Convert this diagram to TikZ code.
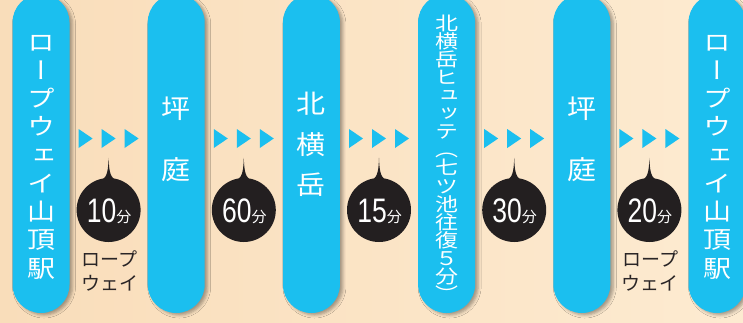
\documentclass[tikz,border=0pt]{standalone}
\usepackage{fontspec}
\usepackage{graphicx}
\usetikzlibrary{shadows.blur,calc}
\newfontfamily\jp{Noto Sans CJK JP}
\newfontfamily\jpv[RawFeature={+vert}]{Noto Sans CJK JP}
\newfontfamily\numfont{Liberation Sans}
\definecolor{bgL}{HTML}{F9DDBA}
\definecolor{bgM}{HTML}{FCEACF}
\definecolor{bgR}{HTML}{FDEBD1}
\definecolor{pillc}{HTML}{1BBFEF}
\definecolor{bubc}{HTML}{231F20}
\definecolor{lblc}{HTML}{2A2526}
\newcommand\vtext[7]{%
  \foreach \c [count=\k] in {#7}
    \node[vch, font=\fontsize{#5}{#5}\jpv] (#1\k) at (#2,{#3+(\k-1)*#4+0.38*#5*#6}) {\scalebox{1}[#6]{\c}};}
\begin{document}
\begin{tikzpicture}[x=1pt,y=-1pt,
  pill/.style={fill=pillc, draw=none, rectangle, rounded corners=28.5pt,
    minimum width=57pt, minimum height=319pt, inner sep=0pt,
    blur shadow={shadow xshift=3pt, shadow yshift=-2pt, shadow blur radius=3pt, shadow opacity=35}},
  vch/.style={anchor=base, inner sep=0pt, text=white},
  bubble/.style={circle, fill=bubc, minimum size=64pt, inner sep=0pt},
  spike/.style={fill=bubc},
  tri/.style={fill=pillc},
  numtxt/.style={anchor=base, inner sep=0pt, text=white},
  lbl/.style={inner sep=0pt, text=lblc, font=\fontsize{19}{19}\jp}]
\useasboundingbox (0,0) rectangle (743,322);
\fill[left color=bgL, middle color=bgM, right color=bgR] (0,0) rectangle (743,322);
% pills
\foreach \i in {0,...,5}
  \node[pill] (p\i) at ({41+135.2*\i},153.5) {};
% vertical texts
\vtext{ta}{41}{42}{28.25}{28}{0.85}{ロ,ー,プ,ウ,ェ,イ,山,頂,駅}
\vtext{tb}{176.2}{109}{61}{29}{0.9}{坪,庭}
\vtext{tc}{311.4}{104}{40.5}{29}{0.9}{北,横,岳}
\vtext{td}{446.6}{23}{18.1}{23}{0.82}{北,横,岳,ヒ,ュ,ッ,テ,︵,七,ツ,池,往,復,５,分,︶}
\vtext{te}{581.8}{109}{61}{29}{0.9}{坪,庭}
\vtext{tf}{717}{42}{28.25}{28}{0.85}{ロ,ー,プ,ウ,ェ,イ,山,頂,駅}
% arrows, bubbles
\foreach \i/\t in {0/10,1/60,2/15,3/30,4/20}{
  \pgfmathsetmacro\gx{108.6+135.2*\i}
  \foreach \k in {-1,0,1}
    \fill[tri] ({\gx+23*\k-7},129) -- ({\gx+23*\k+7},138.5) -- ({\gx+23*\k-7},148) -- cycle;
  \node[bubble] (b\i) at (\gx,210) {};
  \fill[spike] ($(b\i.north)+(0,-20)$) .. controls ($(b\i.north)+(0.4,-9)$) and ($(b\i.north)+(1,-2)$) .. ($(b\i.north)+(6,2)$)
     -- ($(b\i.north)+(-6,2)$) .. controls ($(b\i.north)+(-1,-2)$) and ($(b\i.north)+(-0.4,-9)$) .. cycle;
  \node[numtxt] (n\i) at ({\gx+0.5},222) {\scalebox{0.78}[1]{\fontsize{34}{34}\numfont \t}{\fontsize{15}{15}\jp 分}};
}
% labels
\node[lbl] (l1) at (109.5,259) {ロープ};
\node[lbl] (l2) at (109.5,283) {ウェイ};
\node[lbl] (l3) at (650.4,259) {ロープ};
\node[lbl] (l4) at (650.4,283) {ウェイ};
\end{tikzpicture}
\end{document}
